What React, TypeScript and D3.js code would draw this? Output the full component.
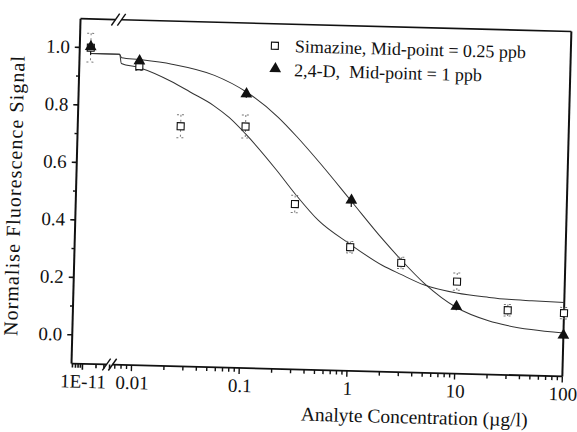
import React from "react";
import * as d3 from "d3";

// measured points (concentration in µg/l, normalised signal)
const simazineConc = [1e-11, 0.01, 0.025, 0.1, 0.3, 1, 3, 10, 30, 100];
const simazineSignal = [1.0, 0.94, 0.735, 0.74, 0.475, 0.33, 0.28, 0.22, 0.125, 0.12];
const simazineErr = [0.05, 0.015, 0.04, 0.04, 0.03, 0.02, 0.02, 0.03, 0.02, 0.02];

const d24Conc = [1e-11, 0.01, 0.1, 1, 10, 100];
const d24Signal = [1.0, 0.955, 0.85, 0.49, 0.13, 0.04];
const d24Err = [0.025, 0.02, 0.01, 0.02, 0.01, 0.01];

// fitted curves
const fitPlateau = 0.98;
const simazineFitConc = [0.0068, 0.01, 0.02, 0.03, 0.05, 0.07, 0.1, 0.2, 0.3, 0.5, 1, 2, 3, 5, 10, 20, 30, 50, 100];
const simazineFitSignal = [0.948, 0.935, 0.89, 0.855, 0.81, 0.77, 0.715, 0.59, 0.51, 0.42, 0.34, 0.27, 0.24, 0.205, 0.18, 0.168, 0.163, 0.16, 0.157];
const d24FitConc = [0.0068, 0.01, 0.02, 0.05, 0.1, 0.2, 0.3, 0.5, 1, 2, 3, 5, 10, 20, 30, 50, 100];
const d24FitSignal = [0.968, 0.963, 0.95, 0.915, 0.86, 0.775, 0.71, 0.62, 0.49, 0.36, 0.29, 0.21, 0.13, 0.087, 0.072, 0.06, 0.051];

const xMajorTicks = [1e-11, 0.01, 0.1, 1, 10, 100];
const xMajorLabels = ["1E-11", "0.01", "0.1", "1", "10", "100"];
const yMajorTicks = [0, 0.2, 0.4, 0.6, 0.8, 1.0];
const yMajorLabels = ["0.0", "0.2", "0.4", "0.6", "0.8", "1.0"];
const yMinorTicks = [0.1, 0.3, 0.5, 0.7, 0.9];

const legendItems = ["Simazine, Mid-point = 0.25 ppb", "2,4-D,  Mid-point = 1 ppb"];

const W = 577;
const H = 432;
const left = 76;
const right = 567;
const top = 25;
const bottom = 370;
const seg1End = 116;
const seg2Start = 118;
const serif = { fontFamily: '"Liberation Serif", "Times New Roman", serif' };
const ink = "#111";

const y = d3.scaleLinear().domain([-0.1, 1.1]).range([bottom, top]);
const xLow = d3.scaleLog().domain([5.7e-12, 4.4e-11]).range([left, seg1End]);
const xHigh = d3.scaleLog().domain([0.0068, 100]).range([seg2Start, right]);
const xPos = (c: number) => (c < 1e-6 ? xLow(c) : xHigh(c));

const line = d3.line<[number, number]>().curve(d3.curveMonotoneX);

function fitPath(conc: number[], sig: number[]) {
  const pts: [number, number][] = [
    [xLow(1e-11), y(fitPlateau)],
    [seg1End, y(fitPlateau)],
    ...conc.map((c, i) => [xHigh(c), y(sig[i])] as [number, number]),
  ];
  return line(pts) || "";
}

const tri = d3.symbol().type(d3.symbolTriangle).size(60)() || "";

export default function App() {
  const minorLow = xLow.ticks();
  const minorHigh = xHigh.ticks();
  const isMajor = (v: number) => Math.abs(Math.log10(v) - Math.round(Math.log10(v))) < 1e-6;
  const b1 = 111;
  const b2 = 117;

  return (
    <svg width={W} height={H} style={{ position: "absolute", left: 0, top: 0, background: "#fff" }}>
      {/* the scanned figure is slightly tilted */}
      <g transform="rotate(1.5, 320, 195)" fill={ink} style={serif}>
        {/* frame */}
        <line x1={left} x2={left} y1={top} y2={bottom} stroke={ink} strokeWidth={2} />
        <line x1={right} x2={right} y1={top} y2={bottom} stroke={ink} strokeWidth={2} />
        <line x1={left} x2={b1} y1={top} y2={top} stroke={ink} strokeWidth={1.6} />
        <line x1={b2} x2={right} y1={top} y2={top} stroke={ink} strokeWidth={1.6} />
        <line x1={left} x2={b1} y1={bottom} y2={bottom} stroke={ink} strokeWidth={1.8} />
        <line x1={b2} x2={right} y1={bottom} y2={bottom} stroke={ink} strokeWidth={1.8} />
        {[b1, b2].map((bx) => (
          <g key={bx}>
            <line x1={bx - 4} x2={bx + 4} y1={top + 6} y2={top - 6} stroke={ink} strokeWidth={1.4} />
            <line x1={bx - 4} x2={bx + 4} y1={bottom + 6} y2={bottom - 6} stroke={ink} strokeWidth={1.4} />
          </g>
        ))}

        {/* y ticks */}
        {yMajorTicks.map((v, i) => (
          <g key={"ym" + i}>
            <line x1={left - 5} x2={left} y1={y(v)} y2={y(v)} stroke={ink} strokeWidth={1.6} />
            <text x={left - 10} y={y(v) + 6} fontSize={19} textAnchor="end" style={serif}>
              {yMajorLabels[i]}
            </text>
          </g>
        ))}
        {yMinorTicks.map((v) => (
          <line key={"yn" + v} x1={left - 3} x2={left} y1={y(v)} y2={y(v)} stroke={ink} strokeWidth={1.4} />
        ))}

        {/* x ticks */}
        {minorLow.map((v) => (
          <line key={"xl" + v} x1={xLow(v)} x2={xLow(v)} y1={bottom} y2={bottom + (isMajor(v) ? 6 : 4)} stroke={ink} strokeWidth={1.6} />
        ))}
        {minorHigh.map((v) => (
          <line key={"xh" + v} x1={xHigh(v)} x2={xHigh(v)} y1={bottom} y2={bottom + (isMajor(v) ? 6 : 4)} stroke={ink} strokeWidth={1.4} />
        ))}
        {xMajorTicks.map((v, i) => (
          <text key={"xt" + i} x={xPos(v) + 1} y={bottom + 24} fontSize={19} textAnchor="middle" style={serif}>
            {xMajorLabels[i]}
          </text>
        ))}

        {/* axis titles */}
        <text x={420} y={421} fontSize={19.5} textAnchor="middle" style={serif}>
          Analyte Concentration (µg/l)
        </text>
        <text transform="translate(21,204) rotate(-90)" fontSize={20} textAnchor="middle" textLength={280} lengthAdjust="spacing" style={serif}>
          Normalise Fluorescence Signal
        </text>

        {/* fitted curves */}
        <path d={fitPath(simazineFitConc, simazineFitSignal)} fill="none" stroke="#333" strokeWidth={1} />
        <path d={fitPath(d24FitConc, d24FitSignal)} fill="none" stroke="#333" strokeWidth={1} />

        {/* error bars */}
        {simazineConc.map((c, i) => {
          const x = xPos(c);
          return (
            <g key={"se" + i} stroke="#777" strokeWidth={1} strokeDasharray="2,3">
              <line x1={x} x2={x} y1={y(simazineSignal[i] + simazineErr[i])} y2={y(simazineSignal[i] - simazineErr[i])} />
              <line x1={x - 4} x2={x + 4} y1={y(simazineSignal[i] + simazineErr[i])} y2={y(simazineSignal[i] + simazineErr[i])} />
              <line x1={x - 4} x2={x + 4} y1={y(simazineSignal[i] - simazineErr[i])} y2={y(simazineSignal[i] - simazineErr[i])} />
            </g>
          );
        })}
        {d24Conc.map((c, i) => {
          const x = xPos(c);
          return (
            <line key={"de" + i} x1={x} x2={x} y1={y(d24Signal[i] + d24Err[i])} y2={y(d24Signal[i] - d24Err[i])} stroke={ink} strokeWidth={1.2} />
          );
        })}

        {/* markers */}
        {simazineConc.map((c, i) => (
          <rect key={"sq" + i} x={xPos(c) - 3.5} y={y(simazineSignal[i]) - 3.5} width={7} height={7} fill="#fff" stroke={ink} strokeWidth={1.1} />
        ))}
        {d24Conc.map((c, i) => (
          <path key={"tr" + i} d={tri} transform={`translate(${xPos(c)},${y(d24Signal[i]) - 1})`} fill={ink} />
        ))}

        {/* legend */}
        <rect x={267.5} y={43.5} width={7} height={7} fill="#fff" stroke={ink} strokeWidth={1.1} />
        <text x={291} y={53} fontSize={18} style={{ ...serif, whiteSpace: "pre" }}>
          {legendItems[0]}
        </text>
        <path d={tri} transform="translate(272,70)" fill={ink} />
        <text x={291} y={77} fontSize={18} style={{ ...serif, whiteSpace: "pre" }}>
          {legendItems[1]}
        </text>
      </g>
    </svg>
  );
}
